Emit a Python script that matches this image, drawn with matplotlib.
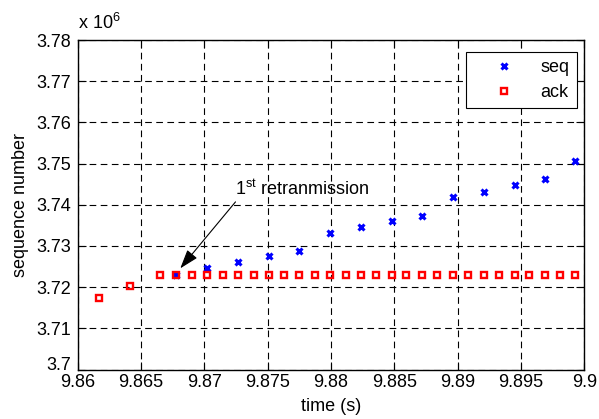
import numpy as np
import matplotlib
matplotlib.use("Agg")
import matplotlib.pyplot as plt

plt.rcParams['font.family'] = ['Liberation Sans', 'DejaVu Sans']
plt.rcParams['mathtext.fontset'] = 'custom'
plt.rcParams['mathtext.rm'] = 'Liberation Sans'
plt.rcParams['mathtext.it'] = 'Liberation Sans'
plt.rcParams['font.size'] = 13

# sequence numbers (x 1e6) of sent segments
seq_t = [9.86778, 9.87023, 9.87268, 9.87510, 9.87750, 9.87995, 9.88235,
         9.88480, 9.88717, 9.88962, 9.89207, 9.89452, 9.89689, 9.89928]
seq_v = [3.72293, 3.72464, 3.72602, 3.72749, 3.72887, 3.73318, 3.73456,
         3.73594, 3.73732, 3.74180, 3.74318, 3.74488, 3.74627, 3.75074]

# acknowledgement numbers (x 1e6)
ack_t = [9.86170, 9.86410, 9.86652, 9.86778, 9.86900, 9.87023, 9.87148,
         9.87268, 9.87390, 9.87510, 9.87627, 9.87750, 9.87872, 9.87995,
         9.88115, 9.88235, 9.88357, 9.88480, 9.88594, 9.88717, 9.88839,
         9.88962, 9.89084, 9.89207, 9.89324, 9.89452, 9.89566, 9.89689,
         9.89806, 9.89928]
ack_v = [3.71740, 3.72025] + [3.72293] * 28

xticks = [9.86, 9.865, 9.87, 9.875, 9.88, 9.885, 9.89, 9.895, 9.9]
xticklabels = ['9.86', '9.865', '9.87', '9.875', '9.88', '9.885', '9.89', '9.895', '9.9']
yticks = [3.70, 3.71, 3.72, 3.73, 3.74, 3.75, 3.76, 3.77, 3.78]
yticklabels = ['3.7', '3.71', '3.72', '3.73', '3.74', '3.75', '3.76', '3.77', '3.78']

fig = plt.figure(figsize=(5.99, 4.19), dpi=100)
ax = fig.add_axes([0.1297, 0.1181, 0.8458, 0.7864])

ax.plot(seq_t, seq_v, linestyle='none', marker='x', color='#0000ff',
        ms=5, mew=2.2, label='seq', zorder=3)
ax.plot(ack_t, ack_v, linestyle='none', marker='s', color='#ff0000',
        mfc='none', ms=4, mew=1.7, label='ack', zorder=4)

ax.set_xlim(9.86, 9.9)
ax.set_ylim(3.70, 3.78)
ax.set_xticks(xticks)
ax.set_xticklabels(xticklabels)
ax.set_yticks(yticks)
ax.set_yticklabels(yticklabels)
ax.tick_params(direction='in', top=True, right=True, length=6, width=0.8,
               labelsize=13)
ax.tick_params(axis='x', pad=3.5)
ax.tick_params(axis='y', pad=5)
# lowest y label sits on its tick so it clears the 9.86 label
ax.get_yticklabels()[0].set_va('baseline')
ax.grid(True, color='black', linestyle=(0, (6, 4)), linewidth=0.8)
for s in ax.spines.values():
    s.set_linewidth(1.0)

ax.set_xlabel('time (s)', fontsize=13, labelpad=5)
ax.set_ylabel('sequence number', fontsize=13, labelpad=5)
ax.text(0.0, 1.02, r'x 10$^{6}$', transform=ax.transAxes, ha='left',
        va='bottom', fontsize=13)

# first retransmission marker
ax.annotate('', xy=(9.8681, 3.72456), xytext=(9.87246, 3.7407),
            arrowprops=dict(arrowstyle='-|>,head_length=0.9,head_width=0.3',
                            color='black', lw=0.8, shrinkA=0, shrinkB=0))
ax.text(9.8724, 3.7414, r'1$^{\mathrm{st}}$ retranmission', ha='left',
        va='bottom', fontsize=13)

leg = ax.legend(loc='upper right', bbox_to_anchor=(576.7 / 599, 1 - 51.7 / 419),
                bbox_transform=fig.transFigure, borderaxespad=0,
                fontsize=13, frameon=True, fancybox=False,
                edgecolor='black', framealpha=1,
                handlelength=3.5, handletextpad=0.25, borderpad=0.4,
                labelspacing=0.45)
leg.get_frame().set_linewidth(0.8)

fig.savefig('out.png', dpi=100)
